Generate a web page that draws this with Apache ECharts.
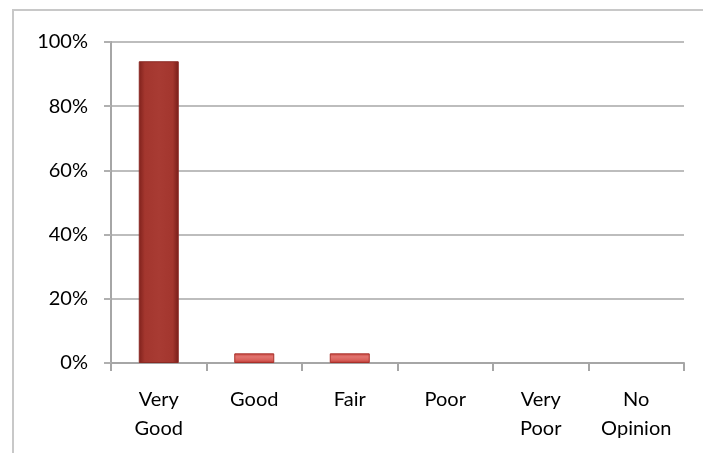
<!DOCTYPE html>
<html><head><meta charset="utf-8">
<script src="https://cdn.jsdelivr.net/npm/echarts@6/dist/echarts.min.js"></script>
<style>html,body{margin:0;padding:0;background:#fff}#c{width:703px;height:453px}</style>
</head><body><div id="c"></div>
<script>
const categories = ['Very\nGood', 'Good', 'Fair', 'Poor', 'Very\nPoor', 'No\nOpinion'];
const values = [94, 3, 3, 0, 0, 0];
const yTicks = [0, 20, 40, 60, 80, 100];

const darkFill = {
  type: 'linear', x: 0, y: 0, x2: 1, y2: 0,
  colorStops: [
    { offset: 0, color: '#7f211c' },
    { offset: 0.15, color: '#a3362e' },
    { offset: 0.5, color: '#a83b33' },
    { offset: 0.85, color: '#a3362e' },
    { offset: 1, color: '#761d18' }
  ]
};
const lightFill = {
  type: 'linear', x: 0, y: 0, x2: 0, y2: 1,
  colorStops: [
    { offset: 0, color: '#c8463f' },
    { offset: 0.35, color: '#e27570' },
    { offset: 0.7, color: '#d9605a' },
    { offset: 1, color: '#b8352f' }
  ]
};

const chart = echarts.init(document.getElementById('c'));
chart.setOption({
  animation: false,
  backgroundColor: '#fff',
  graphic: [{
    type: 'polyline',
    shape: { points: [[13, 453], [13, 10], [703, 10]] },
    style: { stroke: '#c8c8c8', lineWidth: 2, fill: null }
  }],
  grid: { left: 111, right: 19, top: 42, bottom: 90, containLabel: false },
  xAxis: {
    type: 'category',
    data: categories,
    axisLine: { lineStyle: { color: '#a6a6a6', width: 2 } },
    axisTick: { show: true, length: 8, lineStyle: { color: '#a6a6a6', width: 2 } },
    axisLabel: { color: '#000', fontFamily: 'Lato, "Open Sans", sans-serif', fontSize: 20, lineHeight: 29, margin: 22 }
  },
  yAxis: {
    type: 'value', min: 0, max: 100, interval: 20,
    axisLine: { show: true, lineStyle: { color: '#a6a6a6', width: 2 } },
    axisTick: { show: true, length: 7, lineStyle: { color: '#b0b0b0', width: 2 } },
    splitLine: { lineStyle: { color: '#bdbdbd', width: 2 } },
    axisLabel: { color: '#000', fontFamily: 'Lato, "Open Sans", sans-serif', fontSize: 20, margin: 23,
      formatter: v => yTicks.indexOf(v) >= 0 ? v + '%' : '' }
  },
  series: [{
    type: 'bar',
    data: values.map(v => ({
      value: v,
      itemStyle: {
        color: v > 10 ? darkFill : lightFill,
        borderWidth: v > 0 ? 1 : 0,
        borderColor: v > 10 ? '#8a2a24' : '#a8302a'
      }
    })),
    barWidth: 40
  }]
});
</script></body></html>
